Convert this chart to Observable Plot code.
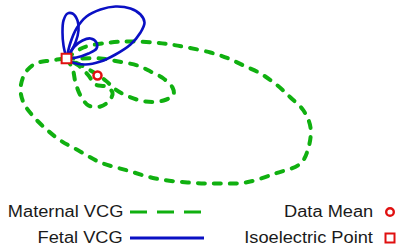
<!DOCTYPE html>
<html><head><meta charset="utf-8">
<script src="https://cdn.jsdelivr.net/npm/d3@7"></script>
<script src="https://cdn.jsdelivr.net/npm/@observablehq/plot@0.6"></script>
<style>
body{margin:0;background:#fff;font-family:"Liberation Sans",Arial,sans-serif;}
#wrap{position:relative;width:404px;height:248px;overflow:hidden;}
#legend{position:absolute;left:0;top:198px;width:404px;height:50px;}
.lt{position:absolute;font-size:16px;line-height:18px;color:#1a1a1a;white-space:nowrap;transform:scaleX(1.14);transform-origin:right center;}
.sw{position:absolute;}
</style>
</head><body>
<div id="wrap"><div id="chart"></div><div id="legend"></div></div>
<script>
// Maternal VCG loops (x, y in mV-like units, isoelectric point at origin)
const maternalOuterX = [0,0.17,0.44,0.64,0.87,1.04,1.21,1.44,1.62,1.77,1.94,2.11,2.24,2.37,2.44,2.42,2.34,2.09,1.79,1.49,1.21,0.89,0.61,0.34,0.12,-0.06,-0.21,-0.34,-0.43,-0.46,-0.41,-0.31,-0.16,0];
const maternalOuterY = [0,0.11,0.16,0.17,0.16,0.14,0.11,0.06,0,-0.07,-0.15,-0.27,-0.39,-0.52,-0.69,-0.89,-1.05,-1.15,-1.24,-1.25,-1.24,-1.20,-1.12,-1.04,-0.92,-0.82,-0.70,-0.57,-0.44,-0.30,-0.14,-0.05,-0.02,0];
const maternalMidX = [0,0.14,0.34,0.52,0.71,0.84,0.97,1.06,1.07,0.97,0.79,0.62,0.49,0.39,0.24,0.09,0];
const maternalMidY = [0,0,0,-0.03,-0.07,-0.13,-0.20,-0.29,-0.36,-0.42,-0.43,-0.38,-0.31,-0.22,-0.12,-0.04,0];
const maternalInnerX = [0,0.06,0.09,0.14,0.22,0.34,0.43,0.46,0.39,0.29,0.22,0.12,0];
const maternalInnerY = [0,-0.10,-0.24,-0.37,-0.47,-0.48,-0.42,-0.34,-0.28,-0.26,-0.17,-0.07,0];
// Fetal VCG loops
const fetalTallX = [0,-0.03,-0.04,-0.03,0.01,0.06,0.11,0.12,0.09,0.04,0];
const fetalTallY = [0,0.13,0.26,0.38,0.45,0.45,0.38,0.28,0.16,0.06,0];
const fetalBigX = [0,0.04,0.10,0.20,0.34,0.49,0.64,0.74,0.78,0.74,0.64,0.49,0.34,0.19,0.06,0];
const fetalBigY = [0,0.16,0.30,0.42,0.49,0.52,0.50,0.44,0.36,0.26,0.14,0.04,-0.03,-0.06,-0.04,0];
const fetalSmallX = [0,0.08,0.16,0.24,0.30,0.30,0.22,0.10,0];
const fetalSmallY = [0,0.12,0.18,0.20,0.16,0.10,0.05,0.01,0];
// markers
const dataMean = {x: 0.31, y: -0.17};
const isoPoint = {x: 0, y: 0};
const legendLabels = ["Maternal VCG", "Fetal VCG", "Data Mean", "Isoelectric Point"];

const green = "#10b010", blue = "#0a10c4", red = "#e01010";

function rows(xs, ys, loop){ return xs.map((x,i)=>({x, y: ys[i], loop})); }
const maternal = [...rows(maternalOuterX, maternalOuterY, "outer"), ...rows(maternalMidX, maternalMidY, "mid"), ...rows(maternalInnerX, maternalInnerY, "inner")];
const fetal = [...rows(fetalTallX, fetalTallY, "tall"), ...rows(fetalBigX, fetalBigY, "big"), ...rows(fetalSmallX, fetalSmallY, "small")];

const plot = Plot.plot({
  width: 404, height: 198,
  margin: 0,
  x: {domain: [-0.66, 3.38], axis: null},
  y: {domain: [-1.40, 0.58], axis: null},
  marks: [
    Plot.line(maternal, {x: "x", y: "y", z: "loop", stroke: green, strokeWidth: 4, strokeDasharray: "7,9", strokeLinecap: "round", curve: "catmull-rom"}),
    Plot.line(fetal, {x: "x", y: "y", z: "loop", stroke: blue, strokeWidth: 2.6, curve: "catmull-rom"}),
    Plot.dot([dataMean], {x: "x", y: "y", r: 4, stroke: red, strokeWidth: 2.5, fill: "white"}),
    Plot.dot([isoPoint], {x: "x", y: "y", symbol: "square", r: 5.5, stroke: red, strokeWidth: 2, fill: "white"})
  ]
});
document.getElementById("chart").appendChild(plot);

const lg = document.getElementById("legend");
lg.innerHTML = `
<div class="lt" style="right:281px;top:5px">${legendLabels[0]}</div>
<svg class="sw" style="left:128px;top:10px" width="78" height="8"><line x1="2" y1="4" x2="76" y2="4" stroke="${green}" stroke-width="3" stroke-dasharray="17,10"/></svg>
<div class="lt" style="right:281px;top:31px">${legendLabels[1]}</div>
<svg class="sw" style="left:128px;top:36px" width="78" height="8"><line x1="2" y1="4" x2="76" y2="4" stroke="${blue}" stroke-width="3"/></svg>
<div class="lt" style="right:31px;top:5px">${legendLabels[2]}</div>
<svg class="sw" style="left:383px;top:7px" width="14" height="14"><circle cx="7" cy="7" r="3.8" fill="white" stroke="${red}" stroke-width="2.4"/></svg>
<div class="lt" style="right:31px;top:31px">${legendLabels[3]}</div>
<svg class="sw" style="left:383px;top:33px" width="14" height="14"><rect x="2.5" y="2.5" width="9" height="9" fill="white" stroke="${red}" stroke-width="2"/></svg>
`;
</script>
</body></html>
